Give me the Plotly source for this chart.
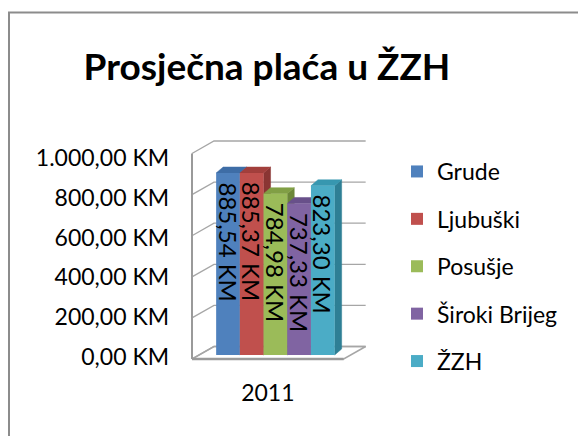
import plotly.graph_objects as go

# ---- data ----
categories = ["2011"]
series_names = ["Grude", "Ljubuški", "Posušje", "Široki Brijeg", "ŽZH"]
series_values = [885.54, 885.37, 784.98, 737.33, 823.30]
value_labels = ["885,54 KM", "885,37 KM", "784,98 KM", "737,33 KM", "823,30 KM"]
tick_values = [0, 200, 400, 600, 800, 1000]
tick_labels = ["0,00 KM", "200,00 KM", "400,00 KM", "600,00 KM", "800,00 KM", "1.000,00 KM"]
title_text = "Prosječna plaća u ŽZH"

# ---- styles ----
front_colors = ["#4F81BD", "#C0504D", "#9BBB59", "#8064A2", "#4BACC6"]
top_colors = ["#3E6DA6", "#A23F3C", "#819F45", "#68508A", "#3797B0"]
side_colors = ["#355A88", "#8A3533", "#6C8739", "#574274", "#2E7F95"]
FONT = "Lato"

# ---- layout geometry (page pixels; the page body adds an 8px margin) ----
OFF = 8
W, H = 586 - OFF, 436 - OFF


def fx_(p):  # page x pixel -> paper fraction
    return (p - OFF) / W


def fy_(p):  # page y pixel -> paper fraction
    return 1 - (p - OFF) / H


pl, pr, pt, pb = 180, 380, 130, 383
x0_px, px_x = 228, 23.7
v0_px, px_v = 355, 0.2055
lab0_px, lab_px_v = 357, 0.199

xr = [(pl - x0_px) / px_x, (pr - x0_px) / px_x]
yr = [(v0_px - pb) / px_v, (v0_px - pt) / px_v]
yr_lab = [(lab0_px - pb) / lab_px_v, (lab0_px - pt) / lab_px_v]

# wall / floor geometry in data units
wall_left = -1.52
wall_front_v = -19.5
floor_w = 6.4
wall_dx, wall_dv = 22 / px_x, 12.5 / px_v
bar_dx, bar_dv = 7 / px_x, 6 / px_v

fig = go.Figure()

# gridlines: left wall slant + back wall horizontal
gx, gy = [], []
for g in tick_values:
    vf = g + wall_front_v
    gx += [wall_left, wall_left + wall_dx, wall_left + wall_dx + floor_w, None]
    gy += [vf, vf + wall_dv, vf + wall_dv, None]
fig.add_trace(go.Scatter(x=gx, y=gy, mode="lines", line=dict(color="#A6A6A6", width=1.3),
                         showlegend=False, hoverinfo="skip"))
# floor outline
fx = [wall_left, wall_left + floor_w, wall_left + floor_w + wall_dx, wall_left + wall_dx]
fy = [wall_front_v, wall_front_v, wall_front_v + wall_dv, wall_front_v + wall_dv]
fig.add_trace(go.Scatter(x=fx + [fx[0]], y=fy + [fy[0]], mode="lines",
                         line=dict(color="#A6A6A6", width=1.5), showlegend=False, hoverinfo="skip"))
fig.add_trace(go.Scatter(x=[wall_left, wall_left + floor_w], y=[wall_front_v, wall_front_v], mode="lines",
                         line=dict(color="#9A9A9A", width=2.5), showlegend=False, hoverinfo="skip"))
# left wall front edge
fig.add_trace(go.Scatter(x=[wall_left, wall_left], y=[wall_front_v, tick_values[-1] + wall_front_v],
                         mode="lines", line=dict(color="#9A9A9A", width=2),
                         showlegend=False, hoverinfo="skip"))

# 3D faces of the bars (top and right side)
for i, v in enumerate(series_values):
    x0, x1 = i - 0.5, i + 0.5
    fig.add_trace(go.Scatter(
        x=[x1, x1, x1 + bar_dx, x1 + bar_dx, x1], y=[0, v, v + bar_dv, bar_dv, 0],
        fill="toself", fillcolor=side_colors[i], mode="lines",
        line=dict(color=side_colors[i], width=0.5), showlegend=False, hoverinfo="skip"))
    fig.add_trace(go.Scatter(
        x=[x0, x1, x1 + bar_dx, x0 + bar_dx, x0], y=[v, v, v + bar_dv, v + bar_dv, v],
        fill="toself", fillcolor=top_colors[i], mode="lines",
        line=dict(color=top_colors[i], width=0.5), showlegend=False, hoverinfo="skip"))

# tick-label axis carrier
fig.add_trace(go.Scatter(x=[None], y=[None], yaxis="y2", showlegend=False, hoverinfo="skip"))

# front faces (real bars)
for i, (name, v) in enumerate(zip(series_names, series_values)):
    fig.add_trace(go.Bar(
        x=[i], y=[v], width=1, name=name, legendgroup=name,
        marker=dict(color=front_colors[i], line=dict(width=0)),
        xaxis="x2", yaxis="y3", hoverinfo="skip"))

# value labels, rotated, just below each bar top
annotations = [
    dict(x=i, y=v, xref="x2", yref="y3", text=value_labels[i], textangle=90, showarrow=False,
         xanchor="center", yanchor="top", yshift=-7,
         font=dict(family=FONT, size=24, color="#000000"))
    for i, v in enumerate(series_values)
]

floor_center = wall_left + floor_w / 2

fig.update_layout(
    width=W, height=H, margin=dict(l=0, r=0, t=0, b=0),
    paper_bgcolor="white", plot_bgcolor="rgba(0,0,0,0)",
    barmode="overlay",
    annotations=annotations,
    title=dict(text=title_text, x=fx_(267), y=fy_(67), xanchor="center", yanchor="middle",
               font=dict(family=FONT, size=37, color="#000000", weight=700)),
    xaxis=dict(domain=[fx_(pl), fx_(pr)], range=xr, showgrid=False, zeroline=False, showline=False,
               tickmode="array", tickvals=[floor_center], ticktext=categories, ticks="",
               ticklabelstandoff=-6,
               tickfont=dict(family=FONT, size=23, color="#000000")),
    yaxis=dict(domain=[fy_(pb), fy_(pt)], range=yr, showgrid=False, zeroline=False,
               showline=False, showticklabels=False, ticks=""),
    yaxis2=dict(overlaying="y", anchor="x", side="left", range=yr_lab, showgrid=False,
                zeroline=False, showline=False, tickmode="array", tickvals=tick_values,
                ticktext=tick_labels, ticks="", ticklabelstandoff=10,
                tickfont=dict(family=FONT, size=23, color="#000000")),
    xaxis2=dict(overlaying="x", anchor="y3", range=xr, visible=False),
    yaxis3=dict(overlaying="y", anchor="x2", range=yr, visible=False),
    legend=dict(x=fx_(397), y=fy_(150), xanchor="left", yanchor="top",
                font=dict(family=FONT, size=23, color="#000000"), tracegroupgap=14.5,
                bgcolor="rgba(0,0,0,0)"),
    showlegend=True,
    shapes=[dict(type="path", xref="paper", yref="paper",
                 path=f"M {1/W} 0 L {1/W} {fy_(12.5)} L 1 {fy_(12.5)}",
                 line=dict(color="#8C8C8C", width=2))],
)

fig.write_html("out.html")
